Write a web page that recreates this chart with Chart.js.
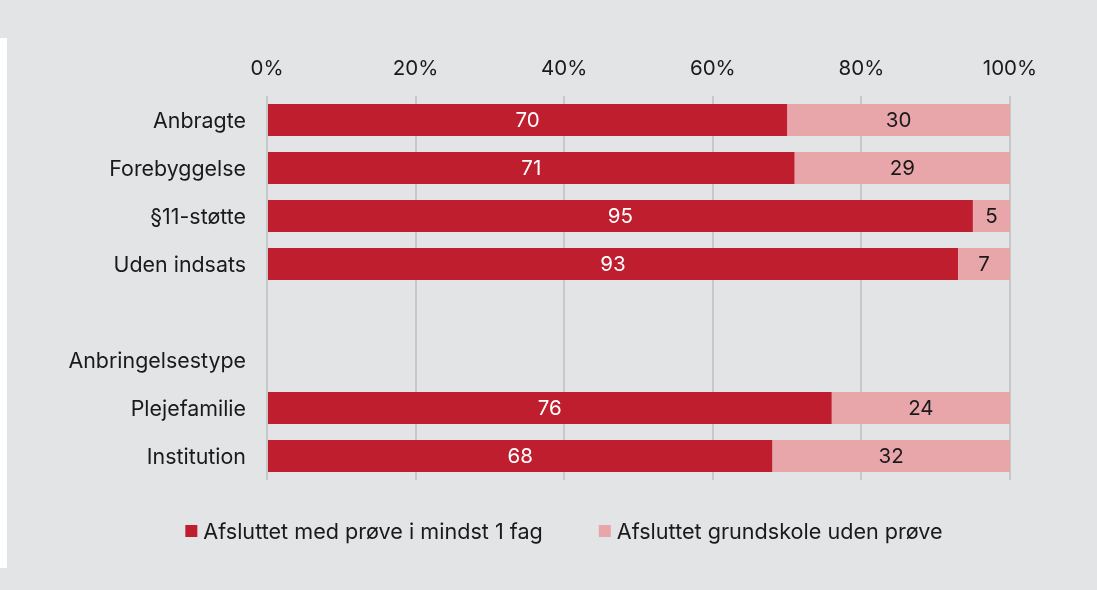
<!DOCTYPE html>
<html>
<head>
<meta charset="utf-8">
<script src="https://cdn.jsdelivr.net/npm/chart.js@4"></script>
<style>
  html, body { margin: 0; padding: 0; background: #e3e4e6; }
  #wrap { position: absolute; left: 0; top: 0; width: 1097px; height: 590px; }
  #strip { position: absolute; left: 0; top: 38px; width: 7px; height: 530px; background: #ffffff; }
  canvas { position: absolute; left: 0; top: 0; }
</style>
</head>
<body>
<div id="wrap">
  <div id="strip"></div>
  <canvas id="c" width="1097" height="590"></canvas>
</div>
<script>
const categories = ["Anbragte", "Forebyggelse", "§11-støtte", "Uden indsats", "", "Anbringelsestype", "Plejefamilie", "Institution"];
const withTest = [70, 71, 95, 93, null, null, 76, 68];
const withoutTest = [30, 29, 5, 7, null, null, 24, 32];
const seriesNames = ["Afsluttet med prøve i mindst 1 fag", "Afsluttet grundskole uden prøve"];
const xTicks = [0, 20, 40, 60, 80, 100];

const FONT = "Inter";
const FS_TICK = 20.5;
const FS_CAT = 21.4;
const FS_LEG = 21.6;
const TEXT = '#1a1a1a';

const valueLabels = {
  id: 'valueLabels',
  afterDatasetsDraw(chart) {
    const ctx = chart.ctx;
    ctx.save();
    ctx.font = FS_TICK + "px " + FONT;
    ctx.textAlign = 'center';
    ctx.textBaseline = 'middle';
    chart.data.datasets.forEach((ds, di) => {
      const meta = chart.getDatasetMeta(di);
      meta.data.forEach((el, i) => {
        const v = ds.data[i];
        if (v === null || v === undefined) return;
        const cx = (el.x + el.base) / 2;
        ctx.fillStyle = di === 0 ? '#ffffff' : TEXT;
        ctx.fillText(String(v), cx, el.y + 1);
      });
    });
    ctx.restore();
  }
};

const bottomLegend = {
  id: 'bottomLegend',
  afterDraw(chart) {
    const ctx = chart.ctx;
    ctx.save();
    ctx.font = FS_LEG + "px " + FONT;
    ctx.textBaseline = 'middle';
    ctx.textAlign = 'left';
    const box = 12, gapBoxText = 6, gapItems = 56;
    const items = chart.data.datasets.map(ds => ({
      text: ds.label, color: ds.backgroundColor, w: ctx.measureText(ds.label).width
    }));
    let total = 0;
    items.forEach((it, i) => { total += box + gapBoxText + it.w + (i < items.length - 1 ? gapItems : 0); });
    const centerX = 564;
    const cy = chart.chartArea.bottom + 51;
    let x = centerX - total / 2;
    items.forEach(it => {
      ctx.fillStyle = it.color;
      ctx.fillRect(x, cy - box / 2, box, box);
      ctx.fillStyle = TEXT;
      ctx.fillText(it.text, x + box + gapBoxText, cy + 1);
      x += box + gapBoxText + it.w + gapItems;
    });
    ctx.restore();
  }
};

new Chart(document.getElementById('c'), {
  type: 'bar',
  data: {
    labels: categories,
    datasets: [
      { label: seriesNames[0], data: withTest, backgroundColor: '#be1e2d', borderWidth: 0 },
      { label: seriesNames[1], data: withoutTest, backgroundColor: '#e8a5aa', borderWidth: 0 }
    ]
  },
  options: {
    indexAxis: 'y',
    responsive: false,
    animation: false,
    layout: { padding: { left: 0, right: 87, top: 0, bottom: 110 } },
    scales: {
      x: {
        position: 'top',
        stacked: true,
        min: 0, max: 100,
        afterBuildTicks(scale) { scale.ticks = xTicks.map(v => ({ value: v })); },
        afterFit(scale) { scale.height = 96; },
        ticks: {
          callback: v => v + '%',
          color: TEXT,
          font: { family: FONT, size: FS_TICK },
          padding: 15,
          maxRotation: 0
        },
        grid: { color: '#c7c8ca', lineWidth: 2, drawTicks: false },
        border: { display: false }
      },
      y: {
        stacked: true,
        afterFit(scale) { scale.width = 267; },
        ticks: {
          color: TEXT,
          font: { family: FONT, size: FS_CAT },
          padding: 13,
          labelOffset: 1.5
        },
        grid: { display: false },
        border: { display: false }
      }
    },
    datasets: { bar: { categoryPercentage: 1, barPercentage: 0.667 } },
    plugins: {
      legend: { display: false },
      tooltip: { enabled: false }
    }
  },
  plugins: [valueLabels, bottomLegend]
});
</script>
</body>
</html>
